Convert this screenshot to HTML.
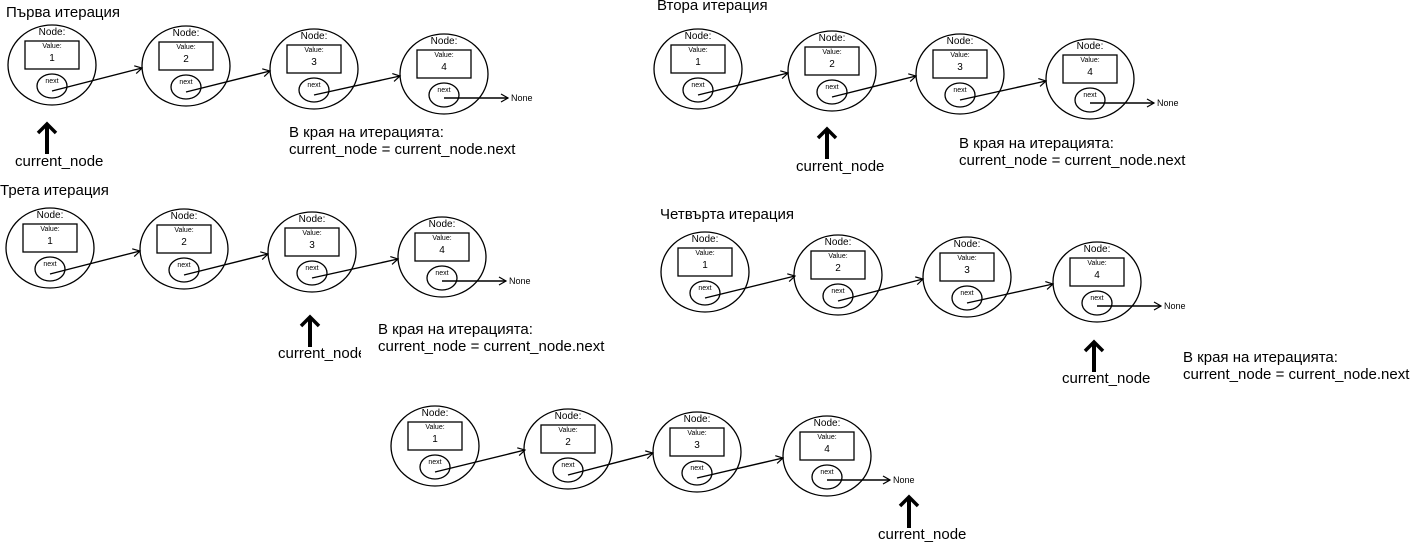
<!DOCTYPE html>
<html><head><meta charset="utf-8"><style>
html,body{margin:0;padding:0;background:#fff;width:1410px;height:542px;overflow:hidden}
svg{display:block}
ellipse,rect{fill:none;stroke:#000;stroke-width:1.3}
line{stroke:#000;stroke-width:1.4}
text{font-family:"Liberation Sans","DejaVu Sans",sans-serif;fill:#000}
.n{font-size:10px;text-anchor:middle}
.s{font-size:7px;text-anchor:middle}
.v{font-size:10px;text-anchor:middle}
.t{font-size:15px}
.no{font-size:9px}
.big{stroke-width:4}
.hd{fill:none;stroke:#000;stroke-width:3.5;stroke-linejoin:miter}
</style></head><body>
<svg width="1410" height="542" viewBox="0 0 1410 542" xmlns="http://www.w3.org/2000/svg">
<defs>
<marker id="a" markerWidth="10" markerHeight="10" refX="8" refY="5" orient="auto" markerUnits="userSpaceOnUse"><path d="M1,1 L8,5 L1,9" fill="none" stroke="#000" stroke-width="1.2"/></marker>
</defs>

<!-- Row 1 -->
<text class="t" x="6" y="17">Първа итерация</text>
<g transform="translate(52,65)"><ellipse rx="44" ry="40"/><text y="-30" class="n">Node:</text><rect x="-27" y="-24" width="54" height="28"/><text y="-17" class="s">Value:</text><text y="-4" class="v">1</text><ellipse cy="21" rx="15" ry="12"/><text y="18" class="s">next</text></g>
<g transform="translate(186,66)"><ellipse rx="44" ry="40"/><text y="-30" class="n">Node:</text><rect x="-27" y="-24" width="54" height="28"/><text y="-17" class="s">Value:</text><text y="-4" class="v">2</text><ellipse cy="21" rx="15" ry="12"/><text y="18" class="s">next</text></g>
<g transform="translate(314,69)"><ellipse rx="44" ry="40"/><text y="-30" class="n">Node:</text><rect x="-27" y="-24" width="54" height="28"/><text y="-17" class="s">Value:</text><text y="-4" class="v">3</text><ellipse cy="21" rx="15" ry="12"/><text y="18" class="s">next</text></g>
<g transform="translate(444,74)"><ellipse rx="44" ry="40"/><text y="-30" class="n">Node:</text><rect x="-27" y="-24" width="54" height="28"/><text y="-17" class="s">Value:</text><text y="-4" class="v">4</text><ellipse cy="21" rx="15" ry="12"/><text y="18" class="s">next</text></g>
<line x1="52" y1="91" x2="142" y2="68" marker-end="url(#a)"/>
<line x1="186" y1="92" x2="270" y2="71" marker-end="url(#a)"/>
<line x1="314" y1="95" x2="400" y2="76" marker-end="url(#a)"/>
<line x1="444" y1="98" x2="508" y2="98" marker-end="url(#a)"/>
<text class="no" x="511" y="101">None</text>
<line class="big" x1="47" y1="154" x2="47" y2="125"/><path class="hd" d="M38,133 L47,124 L56,133"/>
<text class="t" x="15" y="166">current_node</text>
<text class="t" x="289" y="137">В края на итерацията:</text>
<text class="t" x="289" y="154">current_node = current_node.next</text>

<!-- Row 2 -->
<text class="t" x="657" y="10">Втора итерация</text>
<g transform="translate(698,69)"><ellipse rx="44" ry="40"/><text y="-30" class="n">Node:</text><rect x="-27" y="-24" width="54" height="28"/><text y="-17" class="s">Value:</text><text y="-4" class="v">1</text><ellipse cy="21" rx="15" ry="12"/><text y="18" class="s">next</text></g>
<g transform="translate(832,71)"><ellipse rx="44" ry="40"/><text y="-30" class="n">Node:</text><rect x="-27" y="-24" width="54" height="28"/><text y="-17" class="s">Value:</text><text y="-4" class="v">2</text><ellipse cy="21" rx="15" ry="12"/><text y="18" class="s">next</text></g>
<g transform="translate(960,74)"><ellipse rx="44" ry="40"/><text y="-30" class="n">Node:</text><rect x="-27" y="-24" width="54" height="28"/><text y="-17" class="s">Value:</text><text y="-4" class="v">3</text><ellipse cy="21" rx="15" ry="12"/><text y="18" class="s">next</text></g>
<g transform="translate(1090,79)"><ellipse rx="44" ry="40"/><text y="-30" class="n">Node:</text><rect x="-27" y="-24" width="54" height="28"/><text y="-17" class="s">Value:</text><text y="-4" class="v">4</text><ellipse cy="21" rx="15" ry="12"/><text y="18" class="s">next</text></g>
<line x1="698" y1="95" x2="788" y2="73" marker-end="url(#a)"/>
<line x1="832" y1="97" x2="916" y2="76" marker-end="url(#a)"/>
<line x1="960" y1="100" x2="1046" y2="81" marker-end="url(#a)"/>
<line x1="1090" y1="103" x2="1154" y2="103" marker-end="url(#a)"/>
<text class="no" x="1157" y="106">None</text>
<line class="big" x1="827" y1="159" x2="827" y2="130"/><path class="hd" d="M818,138 L827,129 L836,138"/>
<text class="t" x="796" y="171">current_node</text>
<text class="t" x="959" y="148">В края на итерацията:</text>
<text class="t" x="959" y="165">current_node = current_node.next</text>

<!-- Row 3 -->
<text class="t" x="0" y="195">Трета итерация</text>
<g transform="translate(50,248)"><ellipse rx="44" ry="40"/><text y="-30" class="n">Node:</text><rect x="-27" y="-24" width="54" height="28"/><text y="-17" class="s">Value:</text><text y="-4" class="v">1</text><ellipse cy="21" rx="15" ry="12"/><text y="18" class="s">next</text></g>
<g transform="translate(184,249)"><ellipse rx="44" ry="40"/><text y="-30" class="n">Node:</text><rect x="-27" y="-24" width="54" height="28"/><text y="-17" class="s">Value:</text><text y="-4" class="v">2</text><ellipse cy="21" rx="15" ry="12"/><text y="18" class="s">next</text></g>
<g transform="translate(312,252)"><ellipse rx="44" ry="40"/><text y="-30" class="n">Node:</text><rect x="-27" y="-24" width="54" height="28"/><text y="-17" class="s">Value:</text><text y="-4" class="v">3</text><ellipse cy="21" rx="15" ry="12"/><text y="18" class="s">next</text></g>
<g transform="translate(442,257)"><ellipse rx="44" ry="40"/><text y="-30" class="n">Node:</text><rect x="-27" y="-24" width="54" height="28"/><text y="-17" class="s">Value:</text><text y="-4" class="v">4</text><ellipse cy="21" rx="15" ry="12"/><text y="18" class="s">next</text></g>
<line x1="50" y1="274" x2="140" y2="251" marker-end="url(#a)"/>
<line x1="184" y1="275" x2="268" y2="254" marker-end="url(#a)"/>
<line x1="312" y1="278" x2="398" y2="259" marker-end="url(#a)"/>
<line x1="442" y1="281" x2="506" y2="281" marker-end="url(#a)"/>
<text class="no" x="509" y="284">None</text>
<line class="big" x1="310" y1="347" x2="310" y2="318"/><path class="hd" d="M301,326 L310,317 L319,326"/>
<svg x="0" y="0" width="361" height="542" overflow="hidden"><text class="t" x="278" y="358">current_node</text></svg>
<text class="t" x="378" y="334">В края на итерацията:</text>
<text class="t" x="378" y="351">current_node = current_node.next</text>

<!-- Row 4 -->
<text class="t" x="660" y="219">Четвърта итерация</text>
<g transform="translate(705,272)"><ellipse rx="44" ry="40"/><text y="-30" class="n">Node:</text><rect x="-27" y="-24" width="54" height="28"/><text y="-17" class="s">Value:</text><text y="-4" class="v">1</text><ellipse cy="21" rx="15" ry="12"/><text y="18" class="s">next</text></g>
<g transform="translate(838,275)"><ellipse rx="44" ry="40"/><text y="-30" class="n">Node:</text><rect x="-27" y="-24" width="54" height="28"/><text y="-17" class="s">Value:</text><text y="-4" class="v">2</text><ellipse cy="21" rx="15" ry="12"/><text y="18" class="s">next</text></g>
<g transform="translate(967,277)"><ellipse rx="44" ry="40"/><text y="-30" class="n">Node:</text><rect x="-27" y="-24" width="54" height="28"/><text y="-17" class="s">Value:</text><text y="-4" class="v">3</text><ellipse cy="21" rx="15" ry="12"/><text y="18" class="s">next</text></g>
<g transform="translate(1097,282)"><ellipse rx="44" ry="40"/><text y="-30" class="n">Node:</text><rect x="-27" y="-24" width="54" height="28"/><text y="-17" class="s">Value:</text><text y="-4" class="v">4</text><ellipse cy="21" rx="15" ry="12"/><text y="18" class="s">next</text></g>
<line x1="705" y1="298" x2="795" y2="276" marker-end="url(#a)"/>
<line x1="838" y1="301" x2="923" y2="279" marker-end="url(#a)"/>
<line x1="967" y1="303" x2="1053" y2="284" marker-end="url(#a)"/>
<line x1="1097" y1="306" x2="1161" y2="306" marker-end="url(#a)"/>
<text class="no" x="1164" y="309">None</text>
<line class="big" x1="1094" y1="372" x2="1094" y2="343"/><path class="hd" d="M1085,351 L1094,342 L1103,351"/>
<text class="t" x="1062" y="383">current_node</text>
<text class="t" x="1183" y="362">В края на итерацията:</text>
<text class="t" x="1183" y="379">current_node = current_node.next</text>

<!-- Row 5 -->
<g transform="translate(435,446)"><ellipse rx="44" ry="40"/><text y="-30" class="n">Node:</text><rect x="-27" y="-24" width="54" height="28"/><text y="-17" class="s">Value:</text><text y="-4" class="v">1</text><ellipse cy="21" rx="15" ry="12"/><text y="18" class="s">next</text></g>
<g transform="translate(568,449)"><ellipse rx="44" ry="40"/><text y="-30" class="n">Node:</text><rect x="-27" y="-24" width="54" height="28"/><text y="-17" class="s">Value:</text><text y="-4" class="v">2</text><ellipse cy="21" rx="15" ry="12"/><text y="18" class="s">next</text></g>
<g transform="translate(697,452)"><ellipse rx="44" ry="40"/><text y="-30" class="n">Node:</text><rect x="-27" y="-24" width="54" height="28"/><text y="-17" class="s">Value:</text><text y="-4" class="v">3</text><ellipse cy="21" rx="15" ry="12"/><text y="18" class="s">next</text></g>
<g transform="translate(827,456)"><ellipse rx="44" ry="40"/><text y="-30" class="n">Node:</text><rect x="-27" y="-24" width="54" height="28"/><text y="-17" class="s">Value:</text><text y="-4" class="v">4</text><ellipse cy="21" rx="15" ry="12"/><text y="18" class="s">next</text></g>
<line x1="435" y1="472" x2="525" y2="450" marker-end="url(#a)"/>
<line x1="568" y1="475" x2="653" y2="453" marker-end="url(#a)"/>
<line x1="697" y1="478" x2="783" y2="458" marker-end="url(#a)"/>
<line x1="827" y1="480" x2="890" y2="480" marker-end="url(#a)"/>
<text class="no" x="893" y="483">None</text>
<line class="big" x1="909" y1="528" x2="909" y2="498"/><path class="hd" d="M900,506 L909,497 L918,506"/>
<text class="t" x="878" y="539">current_node</text>
</svg>
</body></html>
